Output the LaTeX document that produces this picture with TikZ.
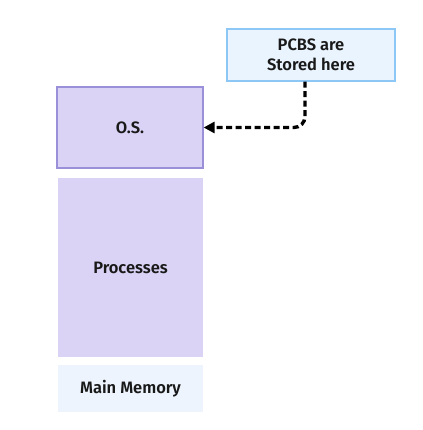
\documentclass[tikz,border=0pt]{standalone}
\usepackage{fontspec}
\setmainfont{Fira Sans SemiBold}
\usetikzlibrary{arrows.meta}
\definecolor{purfill}{HTML}{DAD3F5}
\definecolor{purline}{HTML}{9A8FD9}
\definecolor{bluefill}{HTML}{EAF4FE}
\definecolor{blueline}{HTML}{8CC7F5}
\definecolor{memfill}{HTML}{EDF4FD}
\begin{document}
\begin{tikzpicture}[x=1pt,y=-1pt,
  lbl/.style={font=\fontsize{16.5}{20.5}\selectfont, text=black!90, align=center},
  pcbsbox/.style={draw=blueline, fill=bluefill, line width=1.2pt, inner sep=0pt, lbl},
  osbox/.style={draw=purline, fill=purfill, line width=1.2pt, inner sep=0pt, lbl},
  procbox/.style={fill=purfill, inner sep=0pt, lbl},
  membox/.style={fill=memfill, inner sep=0pt, lbl},
  link/.style={line width=3.4pt, dash pattern=on 6pt off 3.5pt, rounded corners=11pt, -{Triangle[length=11pt,width=11pt]}}]
\useasboundingbox (0,0) rectangle (422,430);
\node[pcbsbox, minimum width=168pt, minimum height=52pt] (pcbs) at (311,55) {PCBS are\\Stored here};
\node[osbox, minimum width=146pt, minimum height=81pt] (os) at (130,127.5) {O.S.};
\node[procbox, minimum width=145pt, minimum height=179pt] (proc) at (130.5,267.5) {Processes};
\node[membox, minimum width=145pt, minimum height=47pt] (mem) at (130.5,388.5) {Main Memory};
\coordinate (bend) at (305,127.5);
\draw[link] (pcbs.south -| bend) -- (bend) -- (os.east);
\end{tikzpicture}
\end{document}
